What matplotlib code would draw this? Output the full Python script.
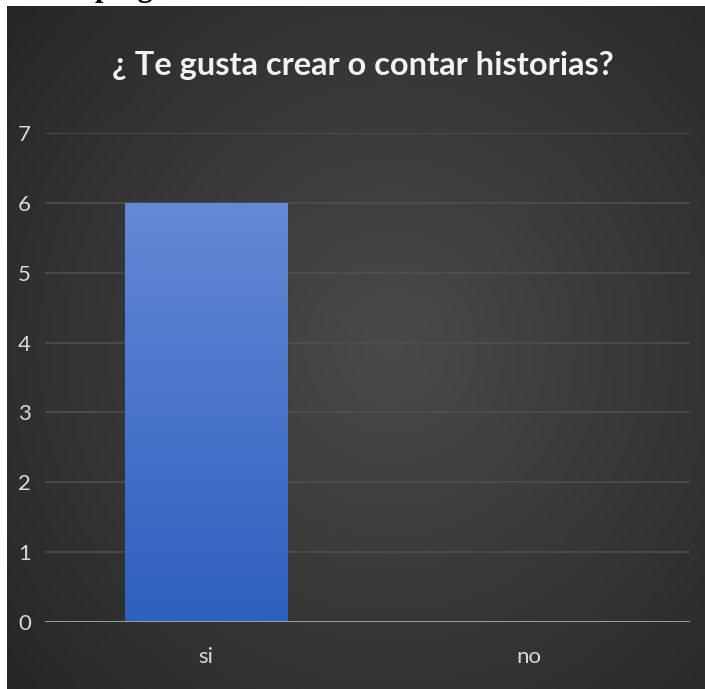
import matplotlib.pyplot as plt
import numpy as np
from matplotlib.colors import LinearSegmentedColormap

categories = ["si", "no"]
values = [6, 0]
y_ticks = [0, 1, 2, 3, 4, 5, 6, 7]
title = "¿ Te gusta crear o contar historias?"

W, H = 705, 689
fig = plt.figure(figsize=(W / 100, H / 100), dpi=100)
fig.patch.set_facecolor("white")

# partial heading from the surrounding document (only descenders visible)
fig.text(95 / W, 1 + 4 / H, "pregu", fontsize=22, fontweight="bold",
         family="Liberation Serif", color="black", va="baseline", ha="left", zorder=-5)

# dark panel with radial gradient
px0, py0 = 7, 6
bg = fig.add_axes([px0 / W, 0, 1 - px0 / W, 1 - py0 / H], zorder=1)
yy, xx = np.mgrid[0:1:300j, 0:1:300j]
r = np.sqrt(((xx - 0.55) / 0.75) ** 2 + ((yy - 0.5) / 0.8) ** 2)
shade = np.clip(1 - r, 0, 1)
bg_cmap = LinearSegmentedColormap.from_list("bg", ["#252525", "#4a4a4a"])
bg.imshow(shade, cmap=bg_cmap, extent=[0, 1, 0, 1], aspect="auto", vmin=0, vmax=1)
bg.set_axis_off()

bg.text(0.51, 1 - (75 - py0) / (H - py0), title, transform=bg.transAxes,
        ha="center", va="baseline", color="#f2f2f2", fontsize=23.5,
        fontweight="bold", family="Lato")

# plot area
x0, x1 = 45, 690
y_top, y_zero = 133, 622
ax = fig.add_axes([x0 / W, (H - y_zero) / H, (x1 - x0) / W, (y_zero - y_top) / H], zorder=2)
ax.patch.set_alpha(0)

for t in y_ticks[1:]:
    ax.axhline(t, color="#4f4f4f", lw=1.2, zorder=1)
ax.axhline(0, color="#a6a6a6", lw=2, zorder=4)

bar_cmap = LinearSegmentedColormap.from_list("bar", ["#2d60bf", "#6589d6"])
xs = np.arange(len(categories))
bars = ax.bar(xs, values, width=0.505, color="none", edgecolor="none", zorder=3)
for b in bars:
    if b.get_height() <= 0:
        continue
    grad = np.linspace(0, 1, 256).reshape(-1, 1)
    im = ax.imshow(grad, cmap=bar_cmap, origin="lower", aspect="auto",
                   extent=[b.get_x(), b.get_x() + b.get_width(), 0, b.get_height()], zorder=3)
    im.set_clip_path(b)
ax.set_xlim(-0.5, 1.5)
ax.set_ylim(0, 7)

ax.set_xticks(xs)
ax.set_xticklabels(categories)
ax.set_yticks(y_ticks)
ax.tick_params(length=0, colors="#d9d9d9", labelsize=16)
for lbl in ax.get_xticklabels() + ax.get_yticklabels():
    lbl.set_family("Lato")
ax.tick_params(axis="y", pad=10)
ax.tick_params(axis="x", pad=18)
for s in ax.spines.values():
    s.set_visible(False)

fig.savefig("out.png", dpi=100)
